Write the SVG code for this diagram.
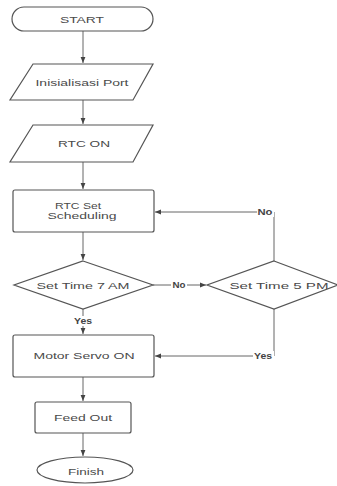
<svg xmlns="http://www.w3.org/2000/svg" width="337" height="486" viewBox="0 0 337 486">
<defs>
<style>
.s{fill:#fff;stroke:#555;stroke-width:1.2}
.t{font-family:"Liberation Sans",Arial,sans-serif;font-size:9.5px;fill:#4a4a4a;text-anchor:middle;dominant-baseline:central}
.l{font-family:"Liberation Sans",Arial,sans-serif;font-size:8.5px;font-weight:bold;fill:#444;text-anchor:middle;dominant-baseline:central}
.c{fill:none;stroke:#666;stroke-width:1}
.bg{fill:#fff}
</style>
<marker id="a" viewBox="0 0 10 10" refX="10" refY="5" markerWidth="6" markerHeight="6" orient="auto"><path d="M0,1 L10,5 L0,9 z" fill="#444"/></marker>
</defs>
<rect width="337" height="486" fill="#fff"/>
<g id="connectors">
<path class="c" d="M83,31 V63" marker-end="url(#a)"/>
<path class="c" d="M83,100 V124" marker-end="url(#a)"/>
<path class="c" d="M83,162 V189" marker-end="url(#a)"/>
<path class="c" d="M83,232 V260" marker-end="url(#a)"/>
<path class="c" d="M153,285 H206" marker-end="url(#a)"/>
<rect class="bg" x="171" y="280" width="16" height="10"/>
<text class="l" x="179" y="285" textLength="13" lengthAdjust="spacingAndGlyphs">No</text>
<path class="c" d="M274,261 V212 H155" marker-end="url(#a)"/>
<rect class="bg" x="257" y="207" width="17" height="10"/>
<text class="l" x="265" y="212" textLength="15" lengthAdjust="spacingAndGlyphs">No</text>
<path class="c" d="M83,309 V334" marker-end="url(#a)"/>
<rect class="bg" x="72" y="316" width="22" height="10"/>
<text class="l" x="83" y="321" textLength="18" lengthAdjust="spacingAndGlyphs">Yes</text>
<path class="c" d="M274,309 V356 H155" marker-end="url(#a)"/>
<rect class="bg" x="253" y="351" width="21" height="10"/>
<text class="l" x="263" y="356" textLength="18" lengthAdjust="spacingAndGlyphs">Yes</text>
<path class="c" d="M83,377 V401" marker-end="url(#a)"/>
<path class="c" d="M83,433 V456" marker-end="url(#a)"/>
</g>
<g id="start">
<rect class="s" x="12" y="7" width="141" height="24" rx="12" ry="12"/>
<text class="t" x="82" y="19" textLength="44" lengthAdjust="spacingAndGlyphs">START</text>
</g>
<g id="init">
<polygon class="s" points="33,64 153,64 133,100 10,100"/>
<text class="t" x="82" y="82" textLength="93" lengthAdjust="spacingAndGlyphs">Inisialisasi Port</text>
</g>
<g id="rtcon">
<polygon class="s" points="33,125 153,125 133,162 10,162"/>
<text class="t" x="84" y="143" textLength="52" lengthAdjust="spacingAndGlyphs">RTC ON</text>
</g>
<g id="rtcset">
<rect class="s" x="13" y="190" width="141" height="42" rx="2"/>
<text class="t" x="78" y="205" textLength="46" lengthAdjust="spacingAndGlyphs">RTC Set</text>
<text class="t" x="82" y="215" textLength="69" lengthAdjust="spacingAndGlyphs">Scheduling</text>
</g>
<g id="d7am">
<polygon class="s" points="83,261 153,285 83,309 14,285"/>
<text class="t" x="83" y="285" textLength="93" lengthAdjust="spacingAndGlyphs">Set Time 7 AM</text>
</g>
<g id="d5pm">
<polygon class="s" points="274,261 338,285 274,309 207,285"/>
<text class="t" x="279" y="285" textLength="99" lengthAdjust="spacingAndGlyphs">Set Time 5 PM</text>
</g>
<g id="servo">
<rect class="s" x="13" y="335" width="141" height="42" rx="2"/>
<text class="t" x="84" y="355" textLength="101" lengthAdjust="spacingAndGlyphs">Motor Servo ON</text>
</g>
<g id="feed">
<rect class="s" x="35" y="402" width="96" height="31" rx="2"/>
<text class="t" x="83" y="417" textLength="58" lengthAdjust="spacingAndGlyphs">Feed Out</text>
</g>
<g id="finish">
<ellipse class="s" cx="85" cy="470" rx="48" ry="13"/>
<text class="t" x="86" y="471" textLength="36" lengthAdjust="spacingAndGlyphs">Finish</text>
</g>
</svg>
